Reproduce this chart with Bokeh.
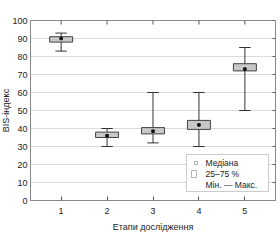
from bokeh.plotting import figure
from bokeh.models import (Range1d, FixedTicker, ColumnDataSource, Title,
                          Label, BoxAnnotation, Whisker, TeeHead)
from bokeh.embed import file_html
from bokeh.resources import INLINE

stages = [1, 2, 3, 4, 5]
stage_labels = ["1", "2", "3", "4", "5"]
minimum = [83, 30, 32, 30, 50]
q1 = [88, 35, 37, 39.5, 72]
median = [90, 36, 38.5, 42, 73]
q3 = [91, 38, 40.5, 44.5, 76]
maximum = [93, 40, 60, 60, 85]
y_ticks = [0, 10, 20, 30, 40, 50, 60, 70, 80, 90, 100]
legend_labels = ["Медіана", "25–75 %", "Мін. — Макс."]
x_title = "Етапи дослідження"
y_title = "BIS-індекс"

FONT = "Liberation Sans"
AX = "#8a8a8a"
TXT = "#222222"
X0, X1 = 1 / 3, 17 / 3
Y0, Y1 = 0, 100

cap = 0.125
src = ColumnDataSource(dict(
    x=stages, lo=minimum, q1=q1, med=median, q3=q3, hi=maximum,
    cl=[s - cap for s in stages], cr=[s + cap for s in stages],
))

p = figure(width=280, height=240, output_backend="svg", toolbar_location=None,
           x_range=Range1d(X0, X1), y_range=Range1d(Y0, Y1),
           min_border_left=30, min_border_right=5, min_border_top=20,
           min_border_bottom=40, x_axis_label=x_title)
p.outline_line_color = AX
p.background_fill_color = "white"
p.border_fill_color = "white"

# inward ticks on the top and right frame edges
p.segment(x0=stages, x1=stages, y0=[Y1] * len(stages), y1=[Y1 - 4 / 1.8] * len(stages),
          line_color="#555555", line_width=1)
p.segment(x0=[X1] * len(y_ticks), x1=[X1 - 3 / 46] * len(y_ticks), y0=y_ticks, y1=y_ticks,
          line_color="#555555", line_width=1)

# whiskers
p.segment(x0="x", x1="x", y0="lo", y1="hi", source=src, line_color="#333333", line_width=1)
p.segment(x0="cl", x1="cr", y0="lo", y1="lo", source=src, line_color="#333333", line_width=1)
p.segment(x0="cl", x1="cr", y0="hi", y1="hi", source=src, line_color="#333333", line_width=1)
# boxes
p.vbar(x="x", bottom="q1", top="q3", width=0.5, source=src,
       fill_color="#c8c8c8", line_color="#444444", line_width=1)
# medians
p.scatter(x="x", y="med", source=src, marker="square", size=2.5,
          fill_color="#111111", line_color="#111111")

# grid
p.xgrid.visible = False
p.ygrid.ticker = FixedTicker(ticks=y_ticks)
p.ygrid.grid_line_color = "#dcdcdc"
p.ygrid.grid_line_width = 1

# axes
for ax in (p.xaxis[0], p.yaxis[0]):
    ax.axis_line_color = AX
    ax.major_label_text_font = FONT
    ax.major_label_text_font_size = "9px"
    ax.major_label_text_color = TXT
    ax.axis_label_text_font = FONT
    ax.axis_label_text_font_size = "9px"
    ax.axis_label_text_font_style = "normal"
    ax.axis_label_text_color = TXT
    ax.minor_tick_line_color = None

p.xaxis.ticker = FixedTicker(ticks=stages)
p.xaxis.major_label_overrides = {s: l for s, l in zip(stages, stage_labels)}
p.xaxis.major_tick_in = 4
p.xaxis.major_tick_out = 0
p.xaxis.major_tick_line_color = "#555555"
p.xaxis.major_label_standoff = 7
p.xaxis.axis_label_standoff = 5

p.yaxis.ticker = FixedTicker(ticks=y_ticks)
p.yaxis.major_tick_in = 0
p.yaxis.major_tick_out = 0
p.yaxis.major_label_standoff = 3

# y axis title as a side title in the left panel
p.add_layout(Title(text=y_title, align="center", standoff=-3, offset=11,
                   text_font=FONT, text_font_size="9px", text_font_style="normal",
                   text_color=TXT), "left")

# manual legend (screen units, relative to the frame)
p.add_layout(BoxAnnotation(left=156, right=238, bottom=9, top=46,
                           left_units="screen", right_units="screen",
                           bottom_units="screen", top_units="screen",
                           fill_color="white", fill_alpha=1,
                           line_color="#555555", line_width=1))
p.add_layout(BoxAnnotation(left=164, right=167, bottom=36, top=39,
                           left_units="screen", right_units="screen",
                           bottom_units="screen", top_units="screen",
                           fill_color="white", fill_alpha=1,
                           line_color="#111111", line_width=1))
p.add_layout(BoxAnnotation(left=161, right=166, bottom=23, top=30,
                           left_units="screen", right_units="screen",
                           bottom_units="screen", top_units="screen",
                           fill_color="white", fill_alpha=1,
                           line_color="#111111", line_width=1))
wsrc = ColumnDataSource(dict(b=[163.5], lo=[13], hi=[20]))
p.add_layout(Whisker(source=wsrc, base="b", lower="lo", upper="hi", dimension="height",
                     base_units="screen", lower_units="screen", upper_units="screen",
                     line_color="#111111", line_width=1,
                     lower_head=TeeHead(size=7, line_color="#111111", line_width=1),
                     upper_head=TeeHead(size=7, line_color="#111111", line_width=1)))
for lbl, yy in zip(legend_labels, [37.5, 27, 16]):
    p.add_layout(Label(x=175, y=yy, x_units="screen", y_units="screen", text=lbl,
                       text_font=FONT, text_font_size="8.5px", text_color=TXT,
                       text_baseline="middle", text_align="left"))

open("out.html", "w").write(file_html(p, INLINE))
